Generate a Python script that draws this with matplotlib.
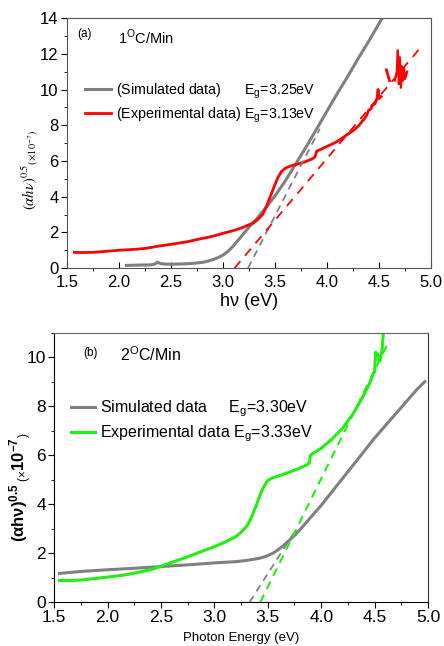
import matplotlib
matplotlib.use("Agg")
from matplotlib import pyplot as plt
from matplotlib.ticker import MultipleLocator

plt.rcParams['font.family'] = ['Liberation Sans', 'DejaVu Sans']
plt.rcParams['mathtext.fontset'] = 'custom'
plt.rcParams['mathtext.rm'] = 'Liberation Sans'
plt.rcParams['mathtext.bf'] = 'Liberation Sans:bold'

# ---- panel (a): 1 C/Min ----
sim_a_x = [2.07, 2.2, 2.3, 2.34, 2.37, 2.4, 2.45, 2.5, 2.6, 2.7, 2.8, 2.85, 2.9, 2.95,
           3.0, 3.05, 3.1, 3.15, 3.2, 3.25, 3.3, 3.35, 3.4, 3.5, 3.6, 3.7, 3.8, 3.9,
           4.0, 4.1, 4.2, 4.3, 4.4, 4.5, 4.55]
sim_a_y = [0.15, 0.17, 0.18, 0.22, 0.33, 0.25, 0.22, 0.22, 0.23, 0.26, 0.32, 0.38, 0.47, 0.58,
           0.73, 0.95, 1.25, 1.6, 1.95, 2.3, 2.6, 2.95, 3.3, 4.05, 4.9, 5.85, 6.8, 7.8,
           8.8, 9.8, 10.75, 11.75, 12.7, 13.7, 14.2]
exp_a_x = [1.57, 1.65, 1.75, 1.9, 2.0, 2.15, 2.25, 2.4, 2.5, 2.65, 2.75, 2.9, 3.0, 3.1, 3.2,
           3.28, 3.33, 3.38, 3.42, 3.46, 3.5, 3.53, 3.56, 3.6, 3.65, 3.7, 3.75, 3.8, 3.85,
           3.88, 3.89, 3.9, 3.95, 4.0, 4.05, 4.1, 4.15, 4.2, 4.25, 4.3, 4.35, 4.38, 4.4,
           4.42, 4.44, 4.46, 4.48, 4.49, 4.5, 4.52]
exp_a_y = [0.88, 0.87, 0.88, 0.95, 1.0, 1.05, 1.1, 1.25, 1.33, 1.47, 1.6, 1.78, 1.95, 2.1, 2.3,
           2.5, 2.7, 3.0, 3.5, 4.1, 4.7, 5.1, 5.4, 5.6, 5.72, 5.8, 5.88, 5.98, 6.1,
           6.2, 6.35, 6.55, 6.68, 6.82, 6.95, 7.1, 7.3, 7.5, 7.7, 7.95, 8.3, 8.55, 8.85,
           8.9, 9.15, 9.2, 9.5, 10.0, 9.5, 9.6]
exp_a_x2 = [4.57, 4.60]
exp_a_y2 = [11.1, 10.5]
exp_a_x3 = [4.65, 4.67, 4.68, 4.69, 4.70, 4.71, 4.72, 4.73, 4.74, 4.75, 4.77]
exp_a_y3 = [10.5, 11.0, 12.2, 10.3, 11.8, 10.1, 11.3, 10.5, 11.2, 10.6, 11.0]
fit_sim_a_x = [3.24, 3.93]
fit_sim_a_y = [0.0, 7.8]
fit_exp_a_x = [3.11, 4.92]
fit_exp_a_y = [0.0, 12.5]

# ---- panel (b): 2 C/Min ----
sim_b_x = [1.55, 1.75, 2.0, 2.25, 2.5, 2.75, 3.0, 3.2, 3.3, 3.4, 3.45, 3.5, 3.55, 3.6, 3.65,
           3.7, 3.75, 3.8, 3.85, 3.9, 4.0, 4.1, 4.2, 4.3, 4.4, 4.5, 4.6, 4.7, 4.8, 4.9, 4.97]
sim_b_y = [1.17, 1.25, 1.32, 1.38, 1.45, 1.52, 1.6, 1.65, 1.7, 1.77, 1.82, 1.9, 2.0, 2.15, 2.32,
           2.52, 2.72, 2.95, 3.2, 3.45, 3.95, 4.5, 5.05, 5.6, 6.15, 6.7, 7.2, 7.7, 8.2, 8.7, 9.0]
exp_b_x = [1.55, 1.65, 1.75, 1.9, 2.0, 2.15, 2.25, 2.4, 2.5, 2.6, 2.75, 2.9, 3.0, 3.1, 3.2,
           3.25, 3.3, 3.33, 3.36, 3.4, 3.43, 3.46, 3.5, 3.55, 3.6, 3.7, 3.8, 3.88, 3.89, 3.9,
           3.95, 4.0, 4.1, 4.2, 4.3, 4.38, 4.45, 4.49, 4.5, 4.51, 4.53, 4.55, 4.57, 4.58]
exp_b_y = [0.88, 0.88, 0.9, 0.97, 1.02, 1.1, 1.18, 1.32, 1.46, 1.62, 1.85, 2.1, 2.26, 2.45, 2.67,
           2.85, 3.08, 3.3, 3.6, 4.04, 4.4, 4.7, 4.97, 5.08, 5.15, 5.3, 5.47, 5.64, 5.7, 6.0,
           6.15, 6.28, 6.65, 7.1, 7.7, 8.3, 8.9, 9.35, 9.4, 10.2, 10.1, 9.85, 10.3, 10.9]
fit_sim_b_x = [3.33, 3.74]
fit_sim_b_y = [0.0, 2.8]
fit_exp_b_x = [3.43, 4.64]
fit_exp_b_y = [0.0, 10.7]

xticks = [1.5, 2.0, 2.5, 3.0, 3.5, 4.0, 4.5, 5.0]

GRAY = '#808080'
RED = '#ff0000'
GREEN = '#22ee11'

fig = plt.figure(figsize=(4.44, 6.46), dpi=100)

# ---------- (a) ----------
ax1 = fig.add_axes([0.151, 0.585, 0.820, 0.387])
ax1.plot(sim_a_x, sim_a_y, color=GRAY, lw=2.2,
         label='(Simulated data)      E$_\\mathrm{g}$=3.25eV')
ax1.plot(exp_a_x, exp_a_y, color=RED, lw=2.0,
         label='(Experimental data) E$_\\mathrm{g}$=3.13eV')
ax1.plot(exp_a_x2, exp_a_y2, color=RED, lw=2.0)
ax1.plot(exp_a_x3, exp_a_y3, color=RED, lw=1.6)
ax1.plot(fit_sim_a_x, fit_sim_a_y, color=GRAY, lw=1.3, dashes=(4, 3))
ax1.plot(fit_exp_a_x, fit_exp_a_y, color=RED, lw=1.3, dashes=(5, 4))
ax1.set_xlim(1.5, 5.0)
ax1.set_ylim(0, 14)
ax1.set_xticks(xticks)
ax1.set_xticklabels(['%.1f' % t for t in xticks])
ax1.yaxis.set_major_locator(MultipleLocator(2))
ax1.yaxis.set_minor_locator(MultipleLocator(1))
ax1.xaxis.set_minor_locator(MultipleLocator(0.25))
ax1.tick_params(axis='x', direction='in', labelsize=12, length=4, pad=5)
ax1.tick_params(axis='y', direction='out', labelsize=12, length=4, pad=2)
ax1.tick_params(which='minor', length=2.5)
for s in ax1.spines.values():
    s.set_color('#555555')
ax1.set_xlabel('h\u03bd (eV)', fontsize=13, labelpad=2)
ax1.text(0.027, 0.936, '(a)', transform=ax1.transAxes, fontsize=8.5, va='center')
ax1.text(0.14, 0.924, '1$^{\\mathrm{O}}$C/Min', transform=ax1.transAxes, fontsize=10.5,
         va='center')
ax1.legend(loc='center left', bbox_to_anchor=(0.049, 0.66), frameon=False, fontsize=10.3,
           handlelength=1.8, handletextpad=0.4, labelspacing=0.35, borderpad=0,
           borderaxespad=0)
fig.text(0.068, 1 - 170 / 646, r'$(\alpha h\nu)^{0.5}{}_{(\times10^{-7})}$',
         rotation=90, ha='center', va='center', fontsize=10.5, math_fontfamily='stix')

# ---------- (b) ----------
ax2 = fig.add_axes([0.122, 0.068, 0.842, 0.417])
ax2.plot(sim_b_x, sim_b_y, color=GRAY, lw=2.2,
         label='Simulated data     E$_\\mathrm{g}$=3.30eV')
ax2.plot(exp_b_x, exp_b_y, color=GREEN, lw=2.2,
         label='Experimental data E$_\\mathrm{g}$=3.33eV')
ax2.plot(fit_sim_b_x, fit_sim_b_y, color=GRAY, lw=1.3, dashes=(4, 3))
ax2.plot(fit_exp_b_x, fit_exp_b_y, color=GREEN, lw=1.5, dashes=(4, 3))
ax2.set_xlim(1.5, 5.0)
ax2.set_ylim(0, 11)
ax2.set_xticks(xticks)
ax2.set_xticklabels(['%.1f' % t for t in xticks])
ax2.yaxis.set_major_locator(MultipleLocator(2))
ax2.yaxis.set_minor_locator(MultipleLocator(1))
ax2.xaxis.set_minor_locator(MultipleLocator(0.25))
ax2.tick_params(axis='both', direction='out', labelsize=12.5, length=4, pad=2)
ax2.tick_params(which='minor', length=2.5)
ax2.spines['top'].set_color('#666666')
ax2.spines['right'].set_color('#333333')
ax2.set_xlabel('Photon Energy (eV)', fontsize=9.5, labelpad=5)
ax2.text(0.078, 0.926, '(b)', transform=ax2.transAxes, fontsize=8.5, va='center')
ax2.text(0.176, 0.918, '2$^{\\mathrm{O}}$C/Min', transform=ax2.transAxes, fontsize=11.5,
         va='center')
ax2.legend(loc='center left', bbox_to_anchor=(0.045, 0.671), frameon=False, fontsize=11.5,
           handlelength=1.5, handletextpad=0.3, labelspacing=0.3, borderpad=0,
           borderaxespad=0)
fig.text(0.047, 1 - 487 / 646,
         r'$\mathbf{(\alpha h\nu)^{0.5}}\,{}_{(\times}\mathbf{10^{-7}}{}_{)}$',
         rotation=90, ha='center', va='center', fontsize=12)

fig.savefig('out.png', dpi=100)
